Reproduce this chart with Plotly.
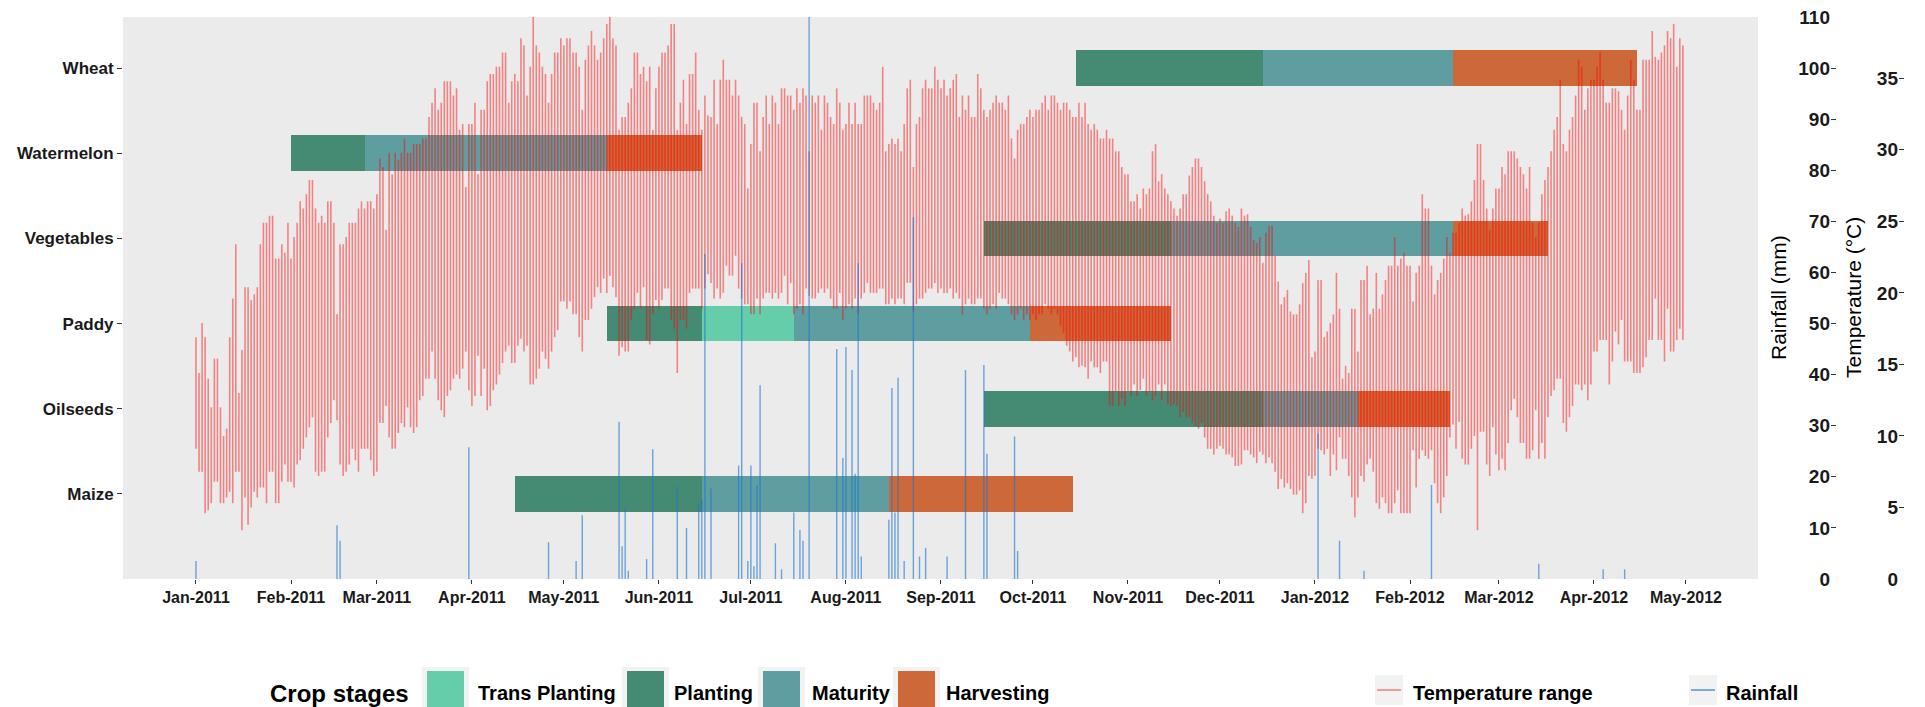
import pandas as pd
import plotly.graph_objects as go

# ---------------------------------------------------------------- data
crops = ["Maize", "Oilseeds", "Paddy", "Vegetables", "Watermelon", "Wheat"]
stages = ["Trans Planting", "Planting", "Maturity", "Harvesting"]
stage_colors = ["#66CDAA", "#458B74", "#5F9EA0", "#CD6839"]

# crop calendar, one row per (crop, stage)
cal_crop = ["Maize", "Maize", "Maize",
            "Oilseeds", "Oilseeds", "Oilseeds",
            "Paddy", "Paddy", "Paddy", "Paddy",
            "Vegetables", "Vegetables", "Vegetables",
            "Watermelon", "Watermelon", "Watermelon",
            "Wheat", "Wheat", "Wheat"]
cal_stage = ["Planting", "Maturity", "Harvesting",
             "Planting", "Maturity", "Harvesting",
             "Planting", "Trans Planting", "Maturity", "Harvesting",
             "Planting", "Maturity", "Harvesting",
             "Planting", "Maturity", "Harvesting",
             "Planting", "Maturity", "Harvesting"]
cal_start = ["2011-04-15", "2011-06-15", "2011-08-15",
             "2011-09-15", "2011-12-15", "2012-01-15",
             "2011-05-15", "2011-06-15", "2011-07-15", "2011-09-30",
             "2011-09-15", "2011-11-15", "2012-02-15",
             "2011-02-01", "2011-02-25", "2011-05-15",
             "2011-10-15", "2011-12-15", "2012-02-15"]
cal_end = ["2011-06-15", "2011-08-15", "2011-10-14",
           "2011-12-15", "2012-01-15", "2012-02-14",
           "2011-06-15", "2011-07-15", "2011-09-30", "2011-11-15",
           "2011-11-15", "2012-02-15", "2012-03-17",
           "2011-02-25", "2011-05-15", "2011-06-15",
           "2011-12-15", "2012-02-15", "2012-04-15"]

# daily temperature (deg C), 1 Jan 2011 onwards
temp_start = "2011-01-01"
t_max = [
    # Jan 2011
    16.9, 14.4, 17.9, 16.9, 14.0, 12.0, 15.4, 15.4, 12.0, 10.0, 10.5, 16.9, 19.6, 23.4, 13.0, 16.0,
    20.4, 20.4, 19.5, 19.9, 20.4, 23.4, 24.9, 24.9, 25.4, 25.4, 22.4, 22.4, 23.4, 22.8, 24.9,
    # Feb 2011
    22.4, 23.9, 24.9, 26.4, 25.9, 26.9, 27.9, 27.9, 25.9, 24.9, 25.4, 24.9, 26.4, 26.4, 24.9, 18.5,
    23.4, 23.4, 23.9, 24.9, 24.9, 24.9, 25.9, 26.4, 25.9, 26.4, 26.4, 25.9,
    # Mar 2011
    26.9, 29.4, 28.8, 24.4, 29.8, 28.3, 29.8, 29.3, 29.8, 30.8, 29.8, 29.8, 30.4, 30.4, 30.4, 30.8,
    30.8, 32.3, 33.3, 34.3, 32.8, 33.3, 34.8, 34.8, 34.8, 33.8, 34.3, 31.4, 31.8, 27.4, 31.8,
    # Apr 2011
    31.8, 33.3, 28.3, 32.8, 32.8, 34.8, 35.3, 35.3, 35.8, 35.8, 36.8, 36.8, 33.3, 34.8, 35.3,
    34.8, 37.8, 37.3, 33.8, 35.8, 39.3, 37.3, 36.8, 35.8, 35.3, 33.3, 35.3, 36.8, 36.8, 37.8,
    # May 2011
    37.3, 37.8, 37.8, 36.8, 36.8, 35.8, 32.8, 36.3, 37.3, 38.3, 37.3, 36.3, 36.8, 37.8, 38.8, 39.3,
    37.8, 37.3, 31.4, 32.3, 32.3, 33.3, 34.3, 36.8, 36.8, 35.3, 35.8, 34.8, 35.8, 31.4, 34.3,
    # Jun 2011
    35.8, 36.8, 36.8, 37.3, 38.8, 38.8, 31.4, 33.3, 34.9, 31.8, 35.3, 35.3, 36.8, 32.8, 31.4,
    33.8, 32.4, 32.3, 34.9, 31.8, 34.9, 36.3, 34.9, 34.9, 33.8, 34.9, 33.8, 32.3, 31.8, 27.3,
    # Jul 2011
    30.4, 33.3, 33.3, 29.9, 32.3, 33.8, 31.8, 33.8, 33.3, 31.8, 34.3, 34.3, 33.8, 33.8, 32.8, 34.3,
    33.3, 34.3, 33.8, 29.9, 33.8, 33.3, 33.8, 31.4, 33.8, 33.3, 32.3, 31.8, 34.3, 33.3, 31.4,
    # Aug 2011
    31.8, 33.3, 31.8, 33.3, 31.8, 31.8, 33.8, 33.8, 33.8, 33.3, 32.8, 33.3, 35.8, 29.9, 30.4, 30.8,
    30.4, 30.8, 29.9, 31.8, 34.3, 34.9, 28.8, 31.8, 32.3, 34.3, 34.9, 34.3, 34.3, 35.8, 34.9,
    # Sep 2011
    34.3, 34.9, 33.8, 34.3, 34.9, 35.3, 32.3, 33.8, 32.8, 33.8, 32.3, 32.3, 35.3, 34.3, 32.8,
    32.3, 32.8, 33.3, 33.8, 33.3, 33.3, 32.8, 33.8, 30.8, 29.4, 31.4, 31.8, 31.8, 32.3, 32.8,
    # Oct 2011
    32.3, 32.8, 32.8, 33.3, 33.8, 32.8, 33.8, 33.8, 33.3, 32.8, 33.3, 33.3, 32.8, 32.3, 32.3, 33.3,
    32.3, 33.3, 31.8, 31.4, 31.8, 31.4, 30.8, 30.8, 31.4, 30.8, 30.8, 29.9, 29.9, 28.8, 28.3,
    # Nov 2011
    28.3, 26.4, 26.4, 26.9, 25.9, 27.3, 26.9, 27.3, 29.9, 30.4, 27.8, 28.3, 27.3, 26.9, 26.4,
    25.9, 25.4, 25.9, 26.9, 26.9, 28.2, 28.8, 29.4, 29.4, 28.8, 27.8, 26.9, 26.4, 25.4, 24.9,
    # Dec 2011
    25.2, 24.9, 25.7, 25.9, 25.4, 24.9, 24.6, 25.9, 25.4, 25.5, 24.6, 23.7, 23.5, 23.9, 22.1, 24.2,
    24.7, 24.7, 22.6, 20.8, 19.2, 19.7, 20.2, 18.7, 18.5, 18.5, 19.2, 20.7, 21.4, 22.3, 15.5,
    # Jan 2012
    15.9, 20.9, 20.9, 16.9, 17.3, 17.9, 18.5, 21.4, 18.9, 14.0, 14.9, 14.4, 18.9, 18.9, 15.9, 20.9,
    20.9, 21.9, 18.5, 18.9, 21.4, 18.9, 19.9, 20.9, 21.9, 21.9, 23.9, 21.9, 22.4, 22.8, 21.9,
    # Feb 2012
    21.9, 19.4, 21.4, 21.9, 26.9, 25.9, 25.9, 21.9, 19.9, 20.9, 21.4, 22.4, 23.9, 22.8, 24.2,
    24.2, 24.9, 25.9, 25.4, 25.5, 26.4, 27.9, 30.4, 30.4, 27.9, 25.9, 24.4, 25.9, 27.3,
    # Mar 2012
    27.3, 28.8, 28.3, 29.9, 29.9, 29.9, 29.4, 28.8, 28.3, 27.3, 28.8, 24.9, 23.9, 24.9, 26.9, 27.9,
    28.8, 29.9, 31.4, 32.3, 34.9, 30.4, 29.9, 31.4, 32.3, 33.8, 36.3, 35.8, 32.8, 34.3, 34.9,
    # Apr 2012
    34.9, 35.8, 36.8, 34.9, 33.3, 33.3, 34.3, 34.3, 34.1, 32.8, 31.4, 33.8, 36.3, 34.9, 32.8,
    32.8, 36.3, 36.3, 36.3, 38.3, 36.5, 36.3, 36.8, 37.3, 38.3, 37.8, 38.8, 35.8, 37.8, 37.3,
]
t_min = [
    # Jan 2011
    9.1, 7.5, 7.5, 4.6, 4.8, 5.3, 6.8, 6.8, 5.3, 5.3, 5.7, 6.1, 5.3, 7.5, 7.5, 3.4,
    5.7, 3.8, 5.0, 6.1, 5.7, 6.4, 6.4, 5.3, 7.5, 7.5, 5.3, 5.3, 6.8, 8.0, 6.8,
    # Feb 2011
    6.8, 6.4, 8.0, 8.3, 9.1, 9.9, 10.6, 11.3, 7.5, 7.2, 7.5, 7.5, 9.9, 10.9, 12.5, 11.1,
    8.0, 7.2, 7.5, 8.0, 9.1, 8.3, 7.5, 9.1, 9.1, 9.1, 8.3, 7.2,
    # Mar 2011
    7.5, 10.9, 10.9, 12.1, 9.9, 9.1, 9.1, 10.2, 10.9, 10.6, 12.0, 10.6, 10.2, 10.6, 12.5, 12.8,
    14.0, 14.0, 15.9, 14.0, 12.5, 11.8, 11.3, 12.8, 13.2, 14.0, 14.3, 14.0, 14.7, 15.9, 13.2,
    # Apr 2011
    12.1, 12.8, 15.6, 12.8, 14.7, 11.8, 12.1, 13.2, 13.6, 14.3, 15.1, 15.9, 16.3, 15.1, 15.1,
    16.3, 16.8, 15.9, 16.3, 13.6, 13.6, 14.0, 14.7, 15.9, 15.4, 14.7, 15.9, 16.9, 17.4, 19.4,
    # May 2011
    19.4, 18.9, 19.4, 18.5, 18.5, 16.9, 15.9, 18.1, 18.1, 18.9, 19.7, 20.4, 20.0, 21.0, 20.0, 21.2,
    20.4, 19.7, 15.6, 16.2, 15.9, 15.9, 18.1, 18.9, 20.0, 18.9, 20.4, 16.7, 16.4, 18.5, 19.5,
    # Jun 2011
    18.9, 19.5, 20.3, 20.3, 18.1, 17.5, 14.4, 18.1, 18.1, 17.5, 20.0, 20.3, 20.3, 20.3, 18.9,
    20.3, 21.3, 20.7, 19.6, 20.3, 19.6, 20.0, 21.9, 21.2, 21.2, 22.6, 20.3, 19.6, 19.2, 19.2,
    # Jul 2011
    18.5, 18.5, 19.6, 18.5, 19.6, 20.0, 20.0, 19.6, 20.0, 19.6, 20.0, 21.2, 19.2, 20.7, 18.5, 18.9,
    19.2, 18.5, 20.3, 19.8, 19.6, 19.6, 20.0, 20.3, 20.0, 20.3, 19.6, 18.9, 18.9, 20.0, 18.1,
    # Aug 2011
    18.9, 19.2, 18.9, 19.6, 18.5, 19.6, 20.0, 20.7, 20.0, 20.0, 20.0, 20.3, 20.3, 19.2, 19.2, 19.6,
    19.2, 19.6, 19.6, 19.2, 20.7, 20.7, 18.7, 19.2, 19.6, 19.6, 20.0, 20.3, 20.3, 20.7, 20.0,
    # Sep 2011
    20.3, 20.0, 20.0, 20.3, 19.6, 20.0, 19.6, 18.5, 19.2, 19.6, 19.2, 19.2, 19.6, 19.6, 18.9,
    18.5, 18.9, 19.2, 18.9, 20.0, 19.6, 19.6, 19.2, 18.5, 18.1, 18.5, 18.9, 18.1, 18.5, 18.1,
    # Oct 2011
    18.5, 18.1, 18.5, 18.5, 19.2, 18.9, 18.5, 18.9, 18.5, 17.7, 17.2, 16.3, 15.9, 15.2, 15.5, 14.8,
    14.9, 14.8, 14.0, 15.2, 14.8, 14.8, 14.4, 15.2, 15.2, 12.1, 12.1, 13.1, 12.1, 12.6, 12.1,
    # Nov 2011
    13.1, 12.8, 13.6, 12.8, 13.2, 14.0, 12.8, 13.1, 12.5, 12.8, 13.6, 12.5, 13.6, 12.2, 12.1,
    12.2, 12.1, 11.3, 11.7, 11.3, 11.3, 10.9, 10.7, 10.5, 10.9, 9.9, 9.1, 9.1, 8.7, 9.1,
    # Dec 2011
    9.3, 9.1, 8.7, 8.7, 8.5, 7.9, 7.9, 8.0, 9.0, 9.0, 8.7, 8.5, 8.1, 8.9, 8.7, 8.1,
    8.5, 8.1, 7.5, 6.3, 7.0, 6.4, 6.7, 6.3, 5.9, 5.9, 6.2, 4.6, 5.3, 7.2, 7.0,
    # Jan 2012
    7.2, 9.1, 9.0, 8.7, 9.1, 7.2, 8.7, 7.6, 9.9, 8.4, 8.4, 7.2, 5.7, 4.3, 5.7, 7.2,
    6.8, 8.0, 8.4, 7.5, 5.3, 4.9, 5.7, 5.3, 4.6, 4.6, 5.3, 6.2, 4.6, 4.6, 4.6,
    # Feb 2012
    4.6, 9.0, 6.4, 8.4, 9.0, 8.6, 8.4, 9.0, 6.7, 5.3, 4.6, 5.7, 7.2, 9.9, 10.8,
    9.1, 11.0, 8.4, 8.0, 8.0, 9.1, 10.0, 3.4, 10.3, 10.3, 8.0, 7.2, 10.6, 8.7,
    # Mar 2012
    7.6, 8.4, 7.6, 9.5, 11.8, 12.6, 11.3, 9.5, 9.5, 8.4, 8.4, 9.0, 11.8, 8.4, 9.5, 8.4,
    11.3, 12.8, 13.2, 14.0, 14.0, 10.9, 10.3, 11.3, 12.1, 13.6, 13.6, 13.2, 13.6, 12.5, 13.6,
    # Apr 2012
    15.9, 15.9, 16.7, 16.7, 16.7, 13.6, 15.2, 17.3, 16.4, 18.1, 15.2, 15.2, 15.2, 14.4, 14.4,
    14.4, 14.8, 15.5, 16.7, 16.7, 19.6, 16.7, 16.7, 15.2, 18.9, 15.9, 15.9, 16.7, 17.5, 16.7,
]

# daily rainfall (mm), rainy days only
rain_dates = [
    "2011-01-01", "2011-02-16", "2011-02-17", "2011-03-31", "2011-04-26",
    "2011-05-05", "2011-05-07", "2011-05-19", "2011-05-20", "2011-05-21", "2011-05-22",
    "2011-05-28", "2011-05-30",
    "2011-06-07", "2011-06-10", "2011-06-14", "2011-06-15", "2011-06-16", "2011-06-18",
    "2011-06-27", "2011-06-28", "2011-06-30",
    "2011-07-01", "2011-07-02", "2011-07-03", "2011-07-04", "2011-07-09", "2011-07-11",
    "2011-07-15", "2011-07-17", "2011-07-18", "2011-07-20", "2011-07-29", "2011-07-31",
    "2011-08-01", "2011-08-03", "2011-08-04", "2011-08-05", "2011-08-06", "2011-08-15",
    "2011-08-16", "2011-08-17", "2011-08-18", "2011-08-20", "2011-08-23", "2011-08-25",
    "2011-08-27",
    "2011-09-03", "2011-09-09", "2011-09-15", "2011-09-16", "2011-09-25", "2011-09-26",
    "2012-01-02", "2012-01-09", "2012-01-17", "2012-02-08", "2012-03-14", "2012-04-04",
    "2012-04-11",
]
rain_mm = [
    3.5, 10.5, 7.5, 25.8, 7.2,
    3.5, 12.5, 30.8, 6.4, 14.1, 1.6,
    3.9, 25.4,
    18.1, 10.0, 14.5, 15.6, 63.6, 17.7,
    22.2, 61.8, 3.5,
    22.2, 2.5, 18.4, 37.9, 7.0, 1.9,
    13.0, 9.6, 7.5, 110.0, 45.0, 23.7,
    45.4, 40.9, 20.6, 61.8, 4.4, 11.6,
    37.4, 13.0, 39.4, 3.5, 70.8, 4.4,
    6.1,
    4.4, 40.9, 41.9, 24.5, 27.9, 5.5,
    28.5, 7.5, 1.6, 18.4, 3.0, 1.9,
    1.9,
]

month_ticks = pd.date_range("2011-01-01", "2012-05-01", freq="MS")
month_labels = [d.strftime("%b-%Y") for d in month_ticks]

rain_ticks = list(range(0, 111, 10))
temp_ticks = list(range(0, 36, 5))
RAIN_PER_DEGREE = 2.8          # secondary-axis scale factor

# ---------------------------------------------------------------- geometry
W, H = 1925, 707
M_L, M_R, M_T, M_B = 123, 0, 17, 128
PLOT_W = W - M_L - M_R
PLOT_H = H - M_T - M_B
PANEL_RIGHT = 1758


def px_x(px):
    return (px - M_L) / PLOT_W


def px_y(py):
    return (H - M_B - py) / PLOT_H


FONT = "Liberation Sans, Arial, sans-serif"
TXT = "#1A1A1A"

fig = go.Figure()

# crop-stage bars (horizontal timeline)
cal = pd.DataFrame({"crop": cal_crop, "stage": cal_stage,
                    "start": pd.to_datetime(cal_start), "end": pd.to_datetime(cal_end)})
for stage, color in zip(stages, stage_colors):
    part = cal[cal["stage"] == stage]
    dur_ms = (part["end"] - part["start"]).dt.total_seconds() * 1000
    fig.add_trace(go.Bar(
        orientation="h", y=part["crop"], x=dur_ms, base=part["start"],
        width=0.42, marker=dict(color=color, line=dict(width=0)),
        name=stage, showlegend=False, xaxis="x", yaxis="y",
    ))

# daily temperature range as vertical segments
days = pd.date_range(temp_start, periods=len(t_max), freq="D")
tx, ty = [], []
for d, lo, hi in zip(days, t_min, t_max):
    tx += [d, d, None]
    ty += [lo, hi, None]
fig.add_trace(go.Scatter(
    x=tx, y=ty, mode="lines", line=dict(color="rgba(255,0,0,0.45)", width=1.6),
    name="Temperature range", showlegend=False, xaxis="x", yaxis="y2",
    connectgaps=False, hoverinfo="skip",
))

# daily rainfall as vertical segments
rx, ry = [], []
for d, v in zip(pd.to_datetime(rain_dates), rain_mm):
    rx += [d, d, None]
    ry += [0, v, None]
fig.add_trace(go.Scatter(
    x=rx, y=ry, mode="lines", line=dict(color="rgba(28,118,210,0.62)", width=1.4),
    name="Rainfall", showlegend=False, xaxis="x", yaxis="y3",
    connectgaps=False, hoverinfo="skip",
))

x_lo = pd.Timestamp("2011-01-01") + pd.Timedelta(days=-23.8)
x_hi = pd.Timestamp("2011-01-01") + pd.Timedelta(days=509.5)

fig.update_layout(
    width=W, height=H,
    margin=dict(l=M_L, r=M_R, t=M_T, b=M_B, autoexpand=False),
    paper_bgcolor="white", plot_bgcolor="#EBEBEB",
    font=dict(family=FONT, color=TXT),
    bargap=0, barmode="overlay",
    xaxis=dict(
        type="date", domain=[0, px_x(PANEL_RIGHT)], range=[x_lo, x_hi],
        tickvals=month_ticks, ticktext=month_labels,
        ticks="outside", ticklen=4, tickwidth=1, tickcolor="#333333",
        tickfont=dict(family=FONT, size=16, color=TXT, weight="bold"),
        showgrid=False, zeroline=False, showline=False, fixedrange=True,
    ),
    yaxis=dict(
        type="category", categoryorder="array", categoryarray=crops,
        range=[-1, 5.6], ticks="outside", ticklen=5, tickwidth=1, tickcolor="#333333",
        tickfont=dict(family=FONT, size=17, color=TXT, weight="bold"),
        showgrid=False, zeroline=False, showline=False, fixedrange=True,
    ),
    yaxis2=dict(
        overlaying="y", anchor="free", side="left", position=px_x(1898),
        range=[0, 110 / RAIN_PER_DEGREE], tickvals=temp_ticks,
        ticks="inside", ticklen=5, tickwidth=1, tickcolor="#333333",
        tickfont=dict(family=FONT, size=19, color=TXT, weight="bold"),
        showgrid=False, zeroline=False, showline=False, fixedrange=True,
    ),
    yaxis3=dict(
        overlaying="y", anchor="free", side="left", position=px_x(1830),
        range=[0, 110], tickvals=rain_ticks,
        ticks="inside", ticklen=5, tickwidth=1, tickcolor="#333333",
        tickfont=dict(family=FONT, size=19, color=TXT, weight="bold"),
        showgrid=False, zeroline=False, showline=False, fixedrange=True,
    ),
)

ann = []
shapes = []

# right-hand axis titles
ann.append(dict(text="Rainfall (mm)", x=px_x(1778), y=px_y(298), xref="paper", yref="paper",
                textangle=-90, showarrow=False, xanchor="center", yanchor="middle",
                font=dict(family=FONT, size=21, color="black")))
ann.append(dict(text="Temperature (°C)", x=px_x(1853), y=px_y(298), xref="paper", yref="paper",
                textangle=-90, showarrow=False, xanchor="center", yanchor="middle",
                font=dict(family=FONT, size=21, color="black")))

# legend: crop stages
LEG_Y = 693
ann.append(dict(text="<b>Crop stages</b>", x=px_x(268), y=px_y(LEG_Y), xref="paper", yref="paper",
                showarrow=False, xanchor="left", yanchor="middle",
                font=dict(family=FONT, size=24, color="black")))
key_left = [422, 622, 758, 893]
text_left = [476, 672, 810, 944]
for stage, color, kx, tx0 in zip(stages, stage_colors, key_left, text_left):
    shapes.append(dict(type="rect", xref="paper", yref="paper",
                       x0=px_x(kx), x1=px_x(kx + 47), y0=px_y(712), y1=px_y(667),
                       fillcolor="#F2F2F2", line=dict(width=0), layer="above"))
    shapes.append(dict(type="rect", xref="paper", yref="paper",
                       x0=px_x(kx + 5), x1=px_x(kx + 42), y0=px_y(712), y1=px_y(671),
                       fillcolor=color, line=dict(width=0), layer="above"))
    ann.append(dict(text=f"<b>{stage}</b>", x=px_x(tx0), y=px_y(LEG_Y), xref="paper", yref="paper",
                    showarrow=False, xanchor="left", yanchor="middle",
                    font=dict(family=FONT, size=20, color="black")))

# legend: line keys
for label, color, kx, tx0 in [("Temperature range", "rgba(255,0,0,0.5)", 1375, 1411),
                              ("Rainfall", "rgba(28,118,210,0.75)", 1689, 1724)]:
    shapes.append(dict(type="rect", xref="paper", yref="paper",
                       x0=px_x(kx), x1=px_x(kx + 28), y0=px_y(705), y1=px_y(675),
                       fillcolor="#F2F2F2", line=dict(width=0), layer="above"))
    shapes.append(dict(type="line", xref="paper", yref="paper",
                       x0=px_x(kx + 2), x1=px_x(kx + 26), y0=px_y(690), y1=px_y(690),
                       line=dict(color=color, width=1.5), layer="above"))
    ann.append(dict(text=f"<b>{label}</b>", x=px_x(tx0), y=px_y(LEG_Y), xref="paper", yref="paper",
                    showarrow=False, xanchor="left", yanchor="middle",
                    font=dict(family=FONT, size=20, color="black")))

fig.update_layout(annotations=ann, shapes=shapes)

fig.write_html("out.html", include_plotlyjs=True, full_html=True,
               config={"displayModeBar": False, "responsive": False})
